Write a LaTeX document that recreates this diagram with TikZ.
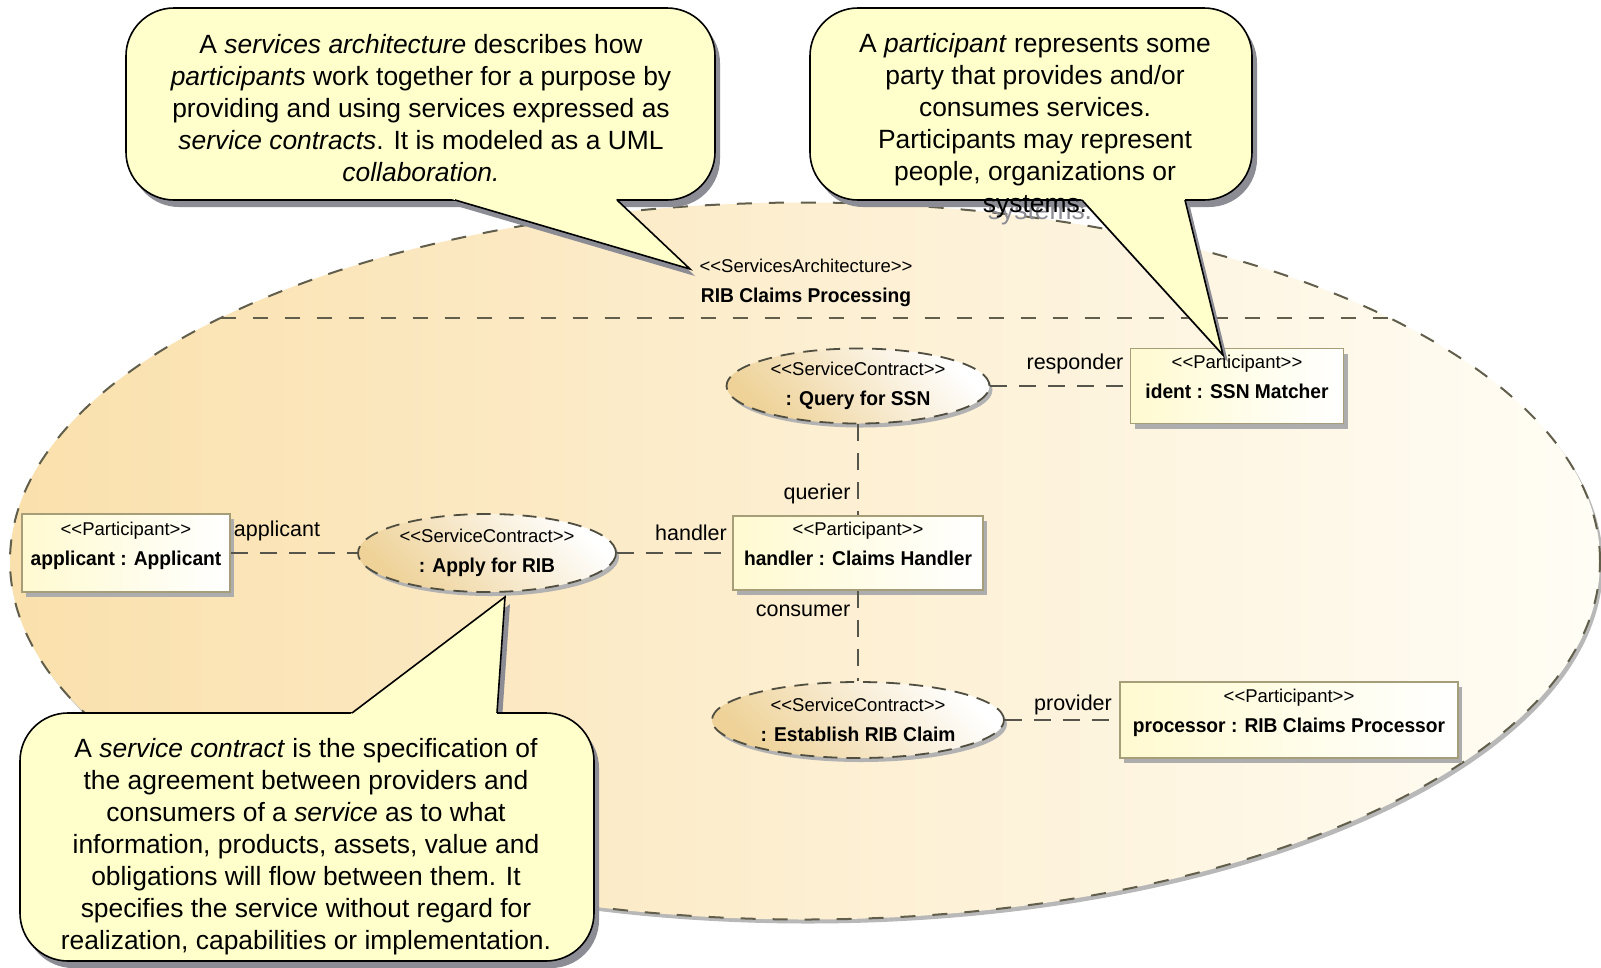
\documentclass[tikz,border=0pt]{standalone}
\usepackage{fontspec}
\setmainfont{Liberation Sans}
\newfontfamily\umlfont{Liberation Sans}
\newfontfamily\umlbfont[FakeStretch=0.96]{Liberation Sans}
\usetikzlibrary{shapes.geometric,shadows,calc}

% colours
\definecolor{notefill}{RGB}{255,255,204}
\definecolor{noteshadow}{RGB}{140,140,148}
\definecolor{archleft}{RGB}{250,224,172}
\definecolor{archright}{RGB}{255,253,245}
\definecolor{archline}{RGB}{98,94,76}
\definecolor{partline}{RGB}{165,158,120}
\definecolor{partfill}{RGB}{255,250,208}
\definecolor{contractfill}{RGB}{238,210,152}
\definecolor{contractline}{RGB}{80,78,64}
\definecolor{connline}{RGB}{85,85,75}

% text helpers
\newcommand\stereo[1]{<\kern0pt<#1>\kern0pt>}
\newcommand\stfont{\umlfont\fontsize{18.5}{30}\selectfont}
\newcommand\pname[1]{{\umlbfont\bfseries\fontsize{20}{30}\selectfont #1}}
\newcommand\rolefont{\umlfont\fontsize{21.5}{26}\selectfont}
\newcommand\lift{\rule[-18pt]{0pt}{1pt}}

\begin{document}
\begin{tikzpicture}[x=1pt,y=-1pt,
  arch/.style={ellipse, minimum width=1590pt, minimum height=717pt, inner sep=0pt,
    left color=archleft, right color=archright,
    draw=archline, line width=2pt, dash pattern=on 15pt off 17pt,
    drop shadow={shadow xshift=3pt, shadow yshift=-4pt, fill=black!28, opacity=1}},
  archdash/.style={draw=archline, line width=2pt, dash pattern=on 15pt off 17pt},
  archtitle/.style={align=center, font=\stfont, inner sep=0pt},
  participant/.style={rectangle, draw=partline, line width=1.6pt,
    left color=partfill, right color=white, inner sep=2pt,
    align=center, font=\stfont,
    drop shadow={shadow xshift=4pt, shadow yshift=-5pt, fill=black!32, opacity=1}},
  contract/.style={ellipse, draw=contractline, line width=1.8pt,
    dash pattern=on 14pt off 9pt,
    top color=white, bottom color=contractfill, shading angle=-45,
    inner sep=0pt, align=center, font=\stfont,
    drop shadow={shadow xshift=3pt, shadow yshift=-4pt, fill=black!30, opacity=1}},
  conn/.style={draw=connline, line width=1.8pt, dash pattern=on 17pt off 12pt},
  role/.style={font=\rolefont, inner sep=0pt},
  notebox/.style={rectangle, draw=black, line width=1.6pt, fill=notefill,
    rounded corners=48pt, inner sep=0pt,
    drop shadow={shadow xshift=5pt, shadow yshift=-7pt, fill=noteshadow, opacity=1}},
  noteline/.style={draw=black, line width=1.6pt, line join=miter},
  notetext/.style={align=center, inner sep=0pt, font=\fontsize{26.4}{32}\selectfont}
]
\useasboundingbox (0,0) rectangle (1601,967);
\fill[white] (0,0) rectangle (1601,967);

% the services architecture collaboration
\node[arch] (arch) at (805,561) {};
\coordinate (divL) at (220.5,318);
\coordinate (divR) at (1389.5,318);
\draw[archdash] (divL) -- (divR);
\node[archtitle] (title) at (806,283)
  {\stereo{ServicesArchitecture}\\\pname{RIB Claims Processing}};

% participants
\node[participant, minimum width=208pt, minimum height=78pt] (applicant) at (126,553)
  {\stereo{Participant}\\\pname{applicant : Applicant\lift}};
\node[participant, minimum width=250pt, minimum height=74pt] (handler) at (858,553)
  {\stereo{Participant}\\\pname{handler : Claims Handler\lift}};
\node[participant, minimum width=213pt, minimum height=75pt] (ident) at (1237,386)
  {\stereo{Participant}\\\pname{ident : SSN Matcher\lift}};
\node[participant, minimum width=338pt, minimum height=76pt] (processor) at (1289,720)
  {\stereo{Participant}\\\pname{processor : RIB Claims Processor\lift}};

% service contracts
\node[contract, minimum width=263pt, minimum height=75pt] (query) at (858,386)
  {\stereo{ServiceContract}\\\pname{: Query for SSN}};
\node[contract, minimum width=258pt, minimum height=78pt] (apply) at (487,553)
  {\stereo{ServiceContract}\\\pname{: Apply for RIB}};
\node[contract, minimum width=292pt, minimum height=76pt] (establish) at (858,720)
  {\stereo{ServiceContract}\\\pname{: Establish RIB Claim}};

% role bindings
\draw[conn] (applicant.east) -- (apply.west);
\draw[conn] (apply.east) -- (handler.west);
\draw[conn] (query.south) -- (handler.north);
\draw[conn] (handler.south) -- (establish.north);
\draw[conn] (query.east) -- (ident.west);
\draw[conn] (establish.east) -- (processor.west);

\node[role] (r-applicant) at (277,531) {applicant};
\node[role] (r-handler)   at (691,533) {handler};
\node[role] (r-querier)   at (817,494) {querier};
\node[role] (r-consumer)  at (803,611) {consumer};
\node[role] (r-responder) at (1075,364) {responder};
\node[role] (r-provider)  at (1073,705) {provider};

% note: services architecture
\coordinate (n1a) at (455,200);
\coordinate (n1b) at (617,200);
\coordinate (n1tip) at (690,269);
\fill[noteshadow] ([shift={(5,7)}]n1a) -- ([shift={(5,7)}]n1tip) -- ([shift={(5,7)}]n1b) -- cycle;
\node[notebox, minimum width=589pt, minimum height=192pt] (note1) at (420.5,104) {};
\fill[notefill] ($(n1a)!-0.06!(n1tip)$) -- (n1tip) -- ($(n1b)!-0.06!(n1tip)$) -- cycle;
\draw[noteline] (n1a) -- (n1tip) -- (n1b);
\node[notetext] (note1text) at (421,108)
  {A \textit{services architecture} describes how\\
   \textit{participants} work together for a purpose by\\
   providing and using services expressed as\\
   \textit{service contracts}. It is modeled as a UML\\
   \textit{collaboration.}};

% note: participant (its last line runs past the box, so its shadow shows)
\coordinate (n2a) at (1082,200);
\coordinate (n2b) at (1185,200);
\coordinate (n2tip) at (1223,355);
\fill[noteshadow] ([shift={(5,7)}]n2a) -- ([shift={(5,7)}]n2tip) -- ([shift={(5,7)}]n2b) -- cycle;
\node[notetext, text=noteshadow, anchor=base] (note2shadow) at (1040,219.6) {systems.};
\node[notebox, minimum width=442pt, minimum height=192pt] (note2) at (1031,104) {};
\fill[notefill] ($(n2a)!-0.06!(n2tip)$) -- (n2tip) -- ($(n2b)!-0.06!(n2tip)$) -- cycle;
\draw[noteline] (n2a) -- (n2tip) -- (n2b);
\node[notetext] (note2text) at (1035,125.5)
  {A \textit{participant} represents some\\
   party that provides and/or\\
   consumes services.\\
   Participants may represent\\
   people, organizations or\\
   systems.};

% note: service contract
\coordinate (n3a) at (352,713);
\coordinate (n3b) at (497,713);
\coordinate (n3tip) at (505,597);
\fill[noteshadow] ([shift={(5,7)}]n3a) -- ([shift={(5,7)}]n3tip) -- ([shift={(5,7)}]n3b) -- cycle;
\node[notebox, minimum width=574pt, minimum height=248pt] (note3) at (307,837) {};
\fill[notefill] ($(n3a)!-0.06!(n3tip)$) -- (n3tip) -- ($(n3b)!-0.06!(n3tip)$) -- cycle;
\draw[noteline] (n3a) -- (n3tip) -- (n3b);
\node[notetext] (note3text) at (306,846.5)
  {A \textit{service contract} is the specification of\\
   the agreement between providers and\\
   consumers of a \textit{service} as to what\\
   information, products, assets, value and\\
   obligations will flow between them. It\\
   specifies the service without regard for\\
   realization, capabilities or implementation.};
\end{tikzpicture}
\end{document}
